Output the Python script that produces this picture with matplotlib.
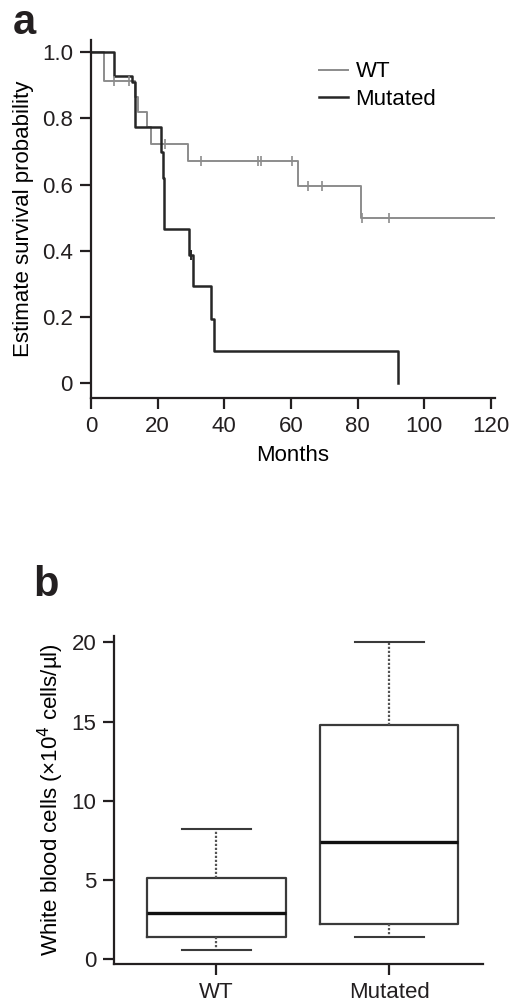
import numpy as np
import matplotlib
matplotlib.use("Agg")
import matplotlib.pyplot as plt

plt.rcParams["font.family"] = ["Liberation Sans", "DejaVu Sans"]

# ---- panel a: Kaplan-Meier curves (months, survival) ----
wt_times = [0, 3.9, 13.2, 14.2, 16.7, 18.0, 29.0, 62.0, 80.9, 121.0]
wt_surv = [1.0, 0.914, 0.864, 0.819, 0.774, 0.723, 0.671, 0.596, 0.499, 0.499]
wt_cens_t = [7.0, 11.5, 22.3, 33.0, 50.2, 50.9, 60.4, 65.2, 69.4, 81.4, 89.4]
wt_cens_s = [0.914, 0.914, 0.723, 0.671, 0.671, 0.671, 0.671, 0.596, 0.596, 0.499, 0.499]

mut_times = [0, 7.0, 12.3, 13.3, 21.0, 21.5, 22.0, 29.3, 30.5, 36.0, 37.0, 92.2]
mut_surv = [1.0, 0.928, 0.91, 0.774, 0.70, 0.62, 0.465, 0.388, 0.293, 0.194, 0.097, 0.0]
mut_cens_t = [30.0]
mut_cens_s = [0.388]

# ---- panel b: white blood cell box plot (x10^4 cells/ul) ----
groups = ["WT", "Mutated"]
wbc_low = [0.59, 1.41]
wbc_q1 = [1.43, 2.23]
wbc_med = [2.94, 7.37]
wbc_q3 = [5.12, 14.8]
wbc_high = [8.25, 20.0]

W, H = 510, 1002
fig = plt.figure(figsize=(W / 100, H / 100), dpi=100)

gray = "#8c8c8c"
dark = "#262626"
axcol = "#231f20"

def style_axes(ax, fs):
    for s in ["top", "right"]:
        ax.spines[s].set_visible(False)
    for s in ["left", "bottom"]:
        ax.spines[s].set_linewidth(1.6)
        ax.spines[s].set_color(axcol)
    ax.tick_params(width=1.6, length=8, color=axcol, labelsize=fs, pad=5,
                   labelcolor="#231f20")

# panel a
ax1 = fig.add_axes([91 / W, 1 - 398 / H, 404 / W, 358 / H])
ax1.step(wt_times, wt_surv, where="post", color=gray, lw=1.4, label="WT")
ax1.step(mut_times, mut_surv, where="post", color=dark, lw=1.8, label="Mutated")
ax1.plot(wt_cens_t, wt_cens_s, "|", color=gray, ms=7, mew=1.2)
ax1.plot(mut_cens_t, mut_cens_s, "|", color=dark, ms=7, mew=1.4)
ax1.set_xlim(0, 121.2)
ax1.set_ylim(-0.045, 1.037)
ax1.set_xticks(np.arange(0, 121, 20))
ax1.set_yticks([0, 0.2, 0.4, 0.6, 0.8, 1.0])
ax1.set_yticklabels(["0", "0.2", "0.4", "0.6", "0.8", "1.0"])
style_axes(ax1, 16)
ax1.set_xlabel("Months", fontsize=16, labelpad=6)
ax1.set_ylabel("Estimate survival probability", fontsize=16, labelpad=6)
ax1.legend(loc="upper left", bbox_to_anchor=(0.564, 0.94), frameon=False,
           fontsize=16, handlelength=1.3, handletextpad=0.35,
           labelspacing=0.3, borderpad=0, borderaxespad=0)
fig.text(13 / W, 1 - 34 / H, "a", fontsize=30, fontweight="bold", color="#231f20")

# panel b
ax2 = fig.add_axes([114.3 / W, 1 - 964 / H, 368.4 / W, 328 / H])
stats = []
for i, g in enumerate(groups):
    stats.append({"label": g, "whislo": wbc_low[i], "q1": wbc_q1[i], "med": wbc_med[i],
                  "q3": wbc_q3[i], "whishi": wbc_high[i], "fliers": []})
ax2.bxp(stats, positions=[1, 2], widths=0.8, showfliers=False,
        boxprops=dict(color="#3a3a3a", lw=1.6),
        medianprops=dict(color="#111111", lw=2.4),
        whiskerprops=dict(color="#555555", lw=1.6, linestyle=(0, (1, 0.8))),
        capprops=dict(color="#3a3a3a", lw=1.5), capwidths=0.4)
ax2.set_xlim(0.41, 2.54)
ax2.set_ylim(-0.3, 20.4)
ax2.set_yticks([0, 5, 10, 15, 20])
style_axes(ax2, 16)
ax2.set_ylabel("White blood cells (\u00d710$^{4}$ cells/\u00b5l)", fontsize=16, labelpad=4)
fig.text(33 / W, 1 - 596 / H, "b", fontsize=30, fontweight="bold", color="#231f20")

fig.savefig("out.png", dpi=100)
